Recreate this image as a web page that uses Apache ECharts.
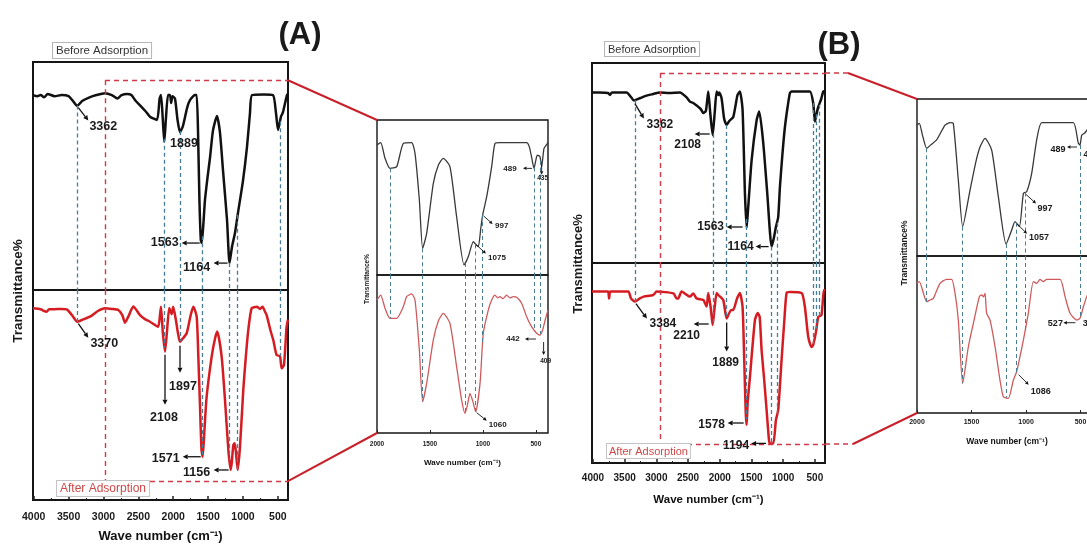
<!DOCTYPE html>
<html>
<head>
<meta charset="utf-8">
<title>FTIR before / after adsorption</title>
<script src="https://cdn.jsdelivr.net/npm/echarts@6.0.0/dist/echarts.min.js"></script>
<style>
  html, body { margin: 0; padding: 0; background: #fff; }
  #chart { width: 1087px; height: 546px; }
</style>
</head>
<body>
<div id="chart"></div>
<script>
// spectra: [wave number cm-1, transmittance %]
var aMainBefore = [[4010,85.5],[3950,85],[3900,85.5],[3850,84.5],[3800,86],[3700,85],[3600,85.5],[3500,85],[3440,83],[3379,80.8],[3300,83],[3200,84.5],[3100,85.5],[2980,86.3],[2880,85.5],[2800,84],[2740,85.5],[2660,86],[2600,85.5],[2540,83],[2476,81],[2400,78.5],[2333,76],[2233,74.6],[2195,84],[2175,85.5],[2150,75],[2128,65],[2105,75],[2075,85.5],[2046,85.5],[2030,82],[2010,85],[1975,84],[1940,75],[1903,69.2],[1860,72],[1800,80],[1760,83.3],[1688,85.5],[1664,85.5],[1645,70],[1625,40],[1605,22],[1592,20.6],[1570,28],[1545,39.5],[1510,49],[1473,58],[1430,70],[1373,76.3],[1330,69],[1287,52.6],[1229,30.7],[1193,11.8],[1158,18.9],[1115,25],[1072,33.8],[1000,48],[943,62.7],[900,77.6],[871,85.5],[700,85.7],[570,85.5],[527,77.6],[498,70.2],[456,76],[427,78],[370,85.5],[355,86]];
var aMainAfter = [[4010,91.3],[3900,90.8],[3850,90],[3814,89.7],[3780,90.8],[3719,90.8],[3600,91],[3527,90.8],[3450,88],[3375,84.9],[3290,86],[3193,87.3],[3080,90],[2978,91.3],[2880,91],[2787,90.5],[2730,88],[2691,84.4],[2644,87.3],[2572,92.1],[2476,88],[2400,86],[2333,84.9],[2218,82.5],[2190,88],[2175,92],[2150,80],[2118,70.6],[2090,80],[2057,91.4],[2023,88.5],[2000,92],[1962,85.7],[1930,79],[1903,75.4],[1860,77],[1807,79.4],[1750,88],[1712,92],[1664,87.3],[1640,68],[1616,44.4],[1595,24],[1578,20.6],[1555,32],[1521,49.2],[1449,68.3],[1400,77],[1369,80.2],[1306,68.3],[1258,47.6],[1210,23.8],[1177,14.3],[1160,18],[1139,26.2],[1120,27],[1105,24],[1076,14.3],[1043,25.4],[996,52.4],[960,68],[924,81],[876,91.3],[800,92],[757,91],[720,92],[685,89.7],[661,88],[600,80],[566,76.2],[518,69],[470,68.5],[446,62.7],[413,64.3],[390,75],[375,82.5],[355,86]];
var aInsetBefore = [[2000,83.9],[1965,85.4],[1924,75.3],[1877,68.8],[1814,69.9],[1751,84.9],[1673,85.4],[1641,78.5],[1600,48.4],[1569,17.2],[1531,26.9],[1468,59.1],[1420,71],[1374,75.3],[1311,69.9],[1248,37.6],[1178,6.5],[1138,11.8],[1090,21.5],[1065,19.5],[1043,18.3],[1020,30],[1002,38.7],[964,50.5],[917,69.9],[886,84.9],[839,85.4],[650,85.4],[587,85.4],[562,82.8],[540,76],[517,68.8],[500,74],[486,77.4],[461,76.3],[445,69.9],[423,81.7],[400,84],[385,85.4]];
var aInsetAfter = [[2000,84.2],[1965,87.3],[1924,78.9],[1877,72.6],[1814,72.6],[1751,80],[1720,86.3],[1673,88],[1641,84.2],[1600,52.5],[1569,19.8],[1531,31.4],[1468,58.9],[1420,71],[1374,75.7],[1311,69.4],[1248,42],[1201,20.9],[1169,12.4],[1145,18],[1122,25.1],[1095,20],[1068,13.5],[1027,31.4],[996,63.1],[949,77.8],[917,84.2],[886,87.3],[860,85.5],[839,86.3],[810,85],[776,87.3],[745,85.5],[713,86.3],[681,85.9],[634,82.1],[587,73.6],[540,67.3],[492,63.1],[461,62],[436,65.2],[410,72],[385,77.8]];

var bMainBefore = [[4015,85.3],[3900,85.3],[3760,85],[3732,84],[3700,85.3],[3469,85.3],[3400,83],[3354,81.2],[3250,82.5],[3154,83.7],[3050,84.5],[2944,85.3],[2800,85],[2628,85.3],[2523,82.8],[2470,80.7],[2418,80],[2300,77],[2260,75],[2219,76],[2181,85.7],[2150,75],[2112,64],[2080,75],[2049,85.7],[2020,84],[2008,85.3],[1972,82.5],[1930,72],[1891,69],[1850,71],[1787,73],[1720,84],[1682,85.7],[1640,76.5],[1603,35],[1576,17.5],[1555,26],[1497,51.5],[1418,71.5],[1377,75.7],[1314,60],[1251,35],[1182,8.2],[1150,12],[1114,18],[1078,23],[1051,38],[1010,55],[972,68],[930,78],[893,85],[867,85.7],[700,85.7],[578,85.7],[526,80],[499,70.7],[470,75],[447,78],[400,82],[368,85.7],[340,86]];
var bMainAfter = [[4015,85.7],[3800,85.7],[3760,85.7],[3745,82.3],[3725,85.7],[3443,85.7],[3400,82.3],[3338,80.7],[3260,82.3],[3200,83.2],[3050,84],[2996,85.7],[2730,84.8],[2680,82.3],[2655,82.3],[2602,85.7],[2470,83.2],[2418,84.8],[2366,82.3],[2260,81.5],[2208,78.2],[2181,85],[2140,77],[2112,69],[2080,78],[2049,85],[2024,84],[1945,81.5],[1891,72.3],[1820,76.5],[1787,76.5],[1730,82],[1682,85],[1640,78],[1614,51.5],[1590,25],[1576,19],[1560,30],[1524,43],[1445,71.5],[1400,75],[1392,75],[1370,73],[1340,56.5],[1303,43],[1261,26.5],[1224,11.5],[1209,9.8],[1156,9.8],[1114,21.5],[1078,26.5],[1025,51.5],[980,72],[946,85],[893,85.5],[709,85],[657,78],[604,63],[552,58],[526,59],[480,66],[447,73],[395,74],[358,86.5],[343,86]];
var bInsetBefore = [[2003,83.4],[1979,84.5],[1950,77],[1911,68.6],[1870,71],[1820,73.9],[1743,83.4],[1697,84.9],[1667,84.5],[1621,48.4],[1581,18.7],[1514,41.8],[1460,60],[1422,69.4],[1376,74.9],[1315,67.5],[1254,37.8],[1183,7.6],[1131,16.6],[1101,21.9],[1061,18.7],[1024,39.9],[994,41],[948,52.7],[902,74],[856,84.9],[700,84.9],[566,84.9],[520,71.8],[505,70.7],[489,76.9],[459,78.5],[420,82],[349,84]];
var bInsetAfter = [[2003,82.6],[1979,83.7],[1911,70.9],[1881,72],[1850,73],[1789,82.6],[1728,85.1],[1682,85.1],[1651,76.2],[1621,59.2],[1581,18.9],[1529,42.2],[1483,57.1],[1428,74.1],[1407,75.2],[1390,74],[1376,76.2],[1361,63.5],[1330,59.2],[1284,42.2],[1239,21],[1208,10.4],[1162,9.3],[1116,21],[1086,26.3],[1024,46.5],[979,63.5],[933,83.7],[902,82.6],[872,85.1],[841,83.7],[810,85.1],[688,85.1],[642,74.1],[596,63.5],[535,59.2],[505,60.3],[474,67.7],[443,74.1],[400,80],[349,83]];

// band positions joined by the dashed guide lines
var aMainGuides  = [3375, 2125, 1895, 1583, 1193, 1076, 470];
var aInsetGuides = [1877, 1569, 1168, 1068, 1002, 515, 455];
var bMainGuides  = [3338, 2110, 1890, 1583, 1182, 1099, 526, 474, 434];
var bInsetGuides = [1911, 1581, 1183, 1092, 1009, 505];

// zoomed window drawn on the main plots: [wave number, top value, bottom value]
var aWindow = [2978, 92, 9];
var bWindow = [2943, 95, 9.5];

// peak labels: [text, wave number, arrow from dx,dy, arrow to dx,dy, label dx,dy, font size]
var aBeforeNotes = [['3362',3375,1,2,11,15,26,21],['1889',1903,null,null,null,null,4,11],['1563',1592,-2,0,-20,0,-37,0],['1164',1193,-2,0,-16,0,-33,4]];
var aAfterNotes  = [['3370',3375,1,2,11,16,27,22],['2108',2118,0,3,0,53,-1,66],['1897',1903,0,4,0,31,3,45],['1571',1578,-2,0,-20,0,-37,2],['1156',1177,-2,0,-17,0,-34,3]];
var aInBeforeNotes = [['489',517,-2,0,-11,0,-24,0],['435',445,0,-2,0,8,1,12,6.5],['997',1002,1,1,10,9,19,11],['1075',1075,1,1,11,10,22,14]];
var aInAfterNotes  = [['442',461,-4,4,-15,4,-27,4],['409',436,1,12,1,25,3,31,6.5],['1060',1068,1,1,11,9,22,13]];
var bBeforeNotes = [['3362',3354,1,3,10,18,26,24],['2108',2112,-3,-1,-18,-1,-25,10],['1563',1576,-4,-1,-20,-1,-36,-1],['1164',1182,-3,0,-16,0,-31,0]];
var bAfterNotes  = [['3384',3338,1,2,12,17,28,22],['2210',2112,-4,-1,-19,-1,-26,11],['1889',1891,0,4,0,33,-1,44],['1578',1576,-3,-2,-19,-2,-35,0],['1194',1190,-5,0,-20,0,-35,2]];
var bInBeforeNotes = [['489',505,-3,2,-13,2,-22,5],['435',505,null,null,null,null,11,10],['997',1009,1,2,11,11,20,16],['1057',1092,1,1,11,11,23,15]];
var bInAfterNotes  = [['527',529,-2,3,-14,3,-22,4],['398',529,null,null,null,null,13,4],['1086',1086,2,3,12,13,24,20]];

var FONT = '"Liberation Sans", Arial, sans-serif';
var AXIS_NAME = 'Wave number (cm\u207B\u00B9)';

function valueAt(spec, w) {
    for (var i = 0; i < spec.length - 1; i++) {
        var a = spec[i], b = spec[i + 1];
        if (w <= a[0] && w >= b[0]) {
            return a[1] + (w - a[0]) / (b[0] - a[0]) * (b[1] - a[1]);
        }
    }
    return spec[spec.length - 1][1];
}

// one entry per framed box
var plots = [
    {box:[33,62,255,228],  range:[355,4010], spec:aMainBefore,  guides:aMainGuides,  part:'top',    main:true,  ink:'#111',    win:aWindow, notes:aBeforeNotes,   noteSize:12.5},
    {box:[33,290,255,210], range:[355,4010], spec:aMainAfter,   guides:aMainGuides,  part:'bottom', main:true,  ink:'#d41c22', win:aWindow, notes:aAfterNotes,    noteSize:12.5, tick:10.5, tickGap:12, nameSize:13, nameGap:30},
    {box:[377,120,171,155],range:[385,2000], spec:aInsetBefore, guides:aInsetGuides, part:'top',    main:false, ink:'#383838', notes:aInBeforeNotes, noteSize:8},
    {box:[377,275,171,158],range:[385,2000], spec:aInsetAfter,  guides:aInsetGuides, part:'bottom', main:false, ink:'#cf5a5c', notes:aInAfterNotes,  noteSize:8, tick:6.5, tickGap:8, nameSize:8, nameGap:26},
    {box:[592,63,233,200], range:[340,4015], spec:bMainBefore,  guides:bMainGuides,  part:'top',    main:true,  ink:'#111',    win:bWindow, notes:bBeforeNotes,   noteSize:12},
    {box:[592,263,233,200],range:[340,4015], spec:bMainAfter,   guides:bMainGuides,  part:'bottom', main:true,  ink:'#d41c22', win:bWindow, notes:bAfterNotes,    noteSize:12, tick:10, tickGap:10, nameSize:11.5, nameGap:31},
    {box:[917,99,180,157], range:[349,2000], spec:bInsetBefore, guides:bInsetGuides, part:'top',    main:false, ink:'#383838', notes:bInBeforeNotes, noteSize:9},
    {box:[917,256,180,157],range:[349,2000], spec:bInsetAfter,  guides:bInsetGuides, part:'bottom', main:false, ink:'#cf5a5c', notes:bInAfterNotes,  noteSize:9, tick:7, tickGap:6, nameSize:8.5, nameGap:24}
];

var grid = [], xAxis = [], yAxis = [], series = [];
plots.forEach(function (p, i) {
    var bottom = p.part === 'bottom';
    grid.push({
        left: p.box[0], top: p.box[1], width: p.box[2], height: p.box[3],
        show: true, borderColor: '#151515', borderWidth: p.main ? 2 : 1.4,
        backgroundColor: 'transparent', outerBoundsMode: 'none', containLabel: false
    });
    xAxis.push({
        type: 'value', gridIndex: i, min: p.range[0], max: p.range[1], inverse: true,
        splitNumber: p.main ? 8 : 4, show: bottom,
        axisLine: {show: false}, splitLine: {show: false},
        axisTick: {show: true, inside: true, length: p.main ? 4 : 3, lineStyle: {color: '#222', width: p.main ? 1.5 : 1}},
        minorTick: {show: p.main, splitNumber: 2, length: 2, lineStyle: {color: '#222'}},
        axisLabel: {
            fontFamily: FONT, fontWeight: 'bold', fontSize: p.tick || 10, color: '#1a1a1a', margin: p.tickGap || 8,
            showMinLabel: false, formatter: function (v) { return String(v); }
        },
        name: bottom ? AXIS_NAME : '', nameLocation: 'middle', nameGap: p.nameGap || 20,
        nameTextStyle: {fontFamily: FONT, fontWeight: 'bold', fontSize: p.nameSize || 10, color: '#111'}
    });
    yAxis.push({type: 'value', gridIndex: i, min: 0, max: 100, show: false});

    series.push({
        type: 'line', xAxisIndex: i, yAxisIndex: i, data: p.spec,
        showSymbol: false, smooth: 0.2, silent: true,
        lineStyle: {color: p.ink, width: p.main ? 2.5 : 1.3},
        markLine: {
            silent: true, symbol: ['none', 'none'], animation: false,
            label: {show: false}, emphasis: {disabled: true},
            lineStyle: {color: '#4a7d93', type: [4, 3], width: p.main ? 1.3 : 1},
            data: p.guides.map(function (w) {
                var v = valueAt(p.spec, w);
                return bottom ? [{coord: [w, 100]}, {coord: [w, v]}] : [{coord: [w, v]}, {coord: [w, 0]}];
            })
        }
    });

    if (p.win) {
        var w = p.win, edge = p.range[0];
        series.push({
            type: 'line', xAxisIndex: i, yAxisIndex: i, data: [], silent: true,
            markLine: {
                silent: true, symbol: ['none', 'none'], animation: false,
                label: {show: false}, emphasis: {disabled: true},
                lineStyle: {color: '#d03a48', type: [5, 4], width: 1.4},
                data: bottom
                    ? [[{coord: [w[0], 100]}, {coord: [w[0], w[2]]}], [{coord: [w[0], w[2]]}, {coord: [edge, w[2]]}]]
                    : [[{coord: [w[0], w[1]]}, {coord: [edge, w[1]]}], [{coord: [w[0], w[1]]}, {coord: [w[0], 0]}]]
            }
        });
    }
});

var chart = echarts.init(document.getElementById('chart'));
chart.setOption({
    animation: false,
    backgroundColor: '#fff',
    grid: grid, xAxis: xAxis, yAxis: yAxis, series: series
});

// ---- overlay: panel letters, legend boxes, arrows, zoom connectors ----
function txt(x, y, s, size, opts) {
    opts = opts || {};
    return {
        type: 'text', z: 100, silent: true, x: x, y: y, rotation: opts.rot || 0,
        style: {
            text: s, fontFamily: FONT, fontSize: size, fontWeight: opts.weight || 'bold',
            fill: opts.fill || '#1a1a1a', align: opts.align || 'center', verticalAlign: opts.va || 'middle',
            backgroundColor: opts.bg, borderColor: opts.border, borderWidth: opts.border ? 1 : 0,
            padding: opts.pad
        }
    };
}

function arrow(x1, y1, x2, y2, head, lw) {
    var dx = x2 - x1, dy = y2 - y1, len = Math.sqrt(dx * dx + dy * dy) || 1;
    var ux = dx / len, uy = dy / len, bx = x2 - ux * head, by = y2 - uy * head, hw = head * 0.5;
    return [
        {type: 'line', z: 100, silent: true, shape: {x1: x1, y1: y1, x2: bx, y2: by}, style: {stroke: '#111', lineWidth: lw}},
        {type: 'polygon', z: 100, silent: true,
         shape: {points: [[x2, y2], [bx - uy * hw, by + ux * hw], [bx + uy * hw, by - ux * hw]]},
         style: {fill: '#111'}}
    ];
}

var g = [
    txt(300, 35, '(A)', 31),
    txt(839, 45, '(B)', 31),
    txt(53, 43, 'Before Adsorption', 11.5, {weight: 'normal', fill: '#333', align: 'left', va: 'top', bg: '#fff', border: '#b5b5b5', pad: [2, 3, 1, 3]}),
    txt(57, 481, 'After Adsorption', 12, {weight: 'normal', fill: '#d04848', align: 'left', va: 'top', bg: '#fff', border: '#c4c4c4', pad: [2, 3, 1, 3]}),
    txt(605, 42, 'Before Adsorption', 11, {weight: 'normal', fill: '#333', align: 'left', va: 'top', bg: '#fff', border: '#b5b5b5', pad: [2, 3, 1, 3]}),
    txt(607, 444, 'After Adsorption', 11, {weight: 'normal', fill: '#d04848', align: 'left', va: 'top', bg: '#fff', border: '#c4c4c4', pad: [2, 2, 1, 2]}),
    txt(18, 291, 'Transmittance%', 13.5, {rot: Math.PI / 2}),
    txt(578, 264, 'Transmittance%', 13, {rot: Math.PI / 2}),
    txt(367, 279, 'Transmittance%', 6.5, {rot: Math.PI / 2}),
    txt(905, 253, 'Transmittance%', 8.5, {rot: Math.PI / 2})
];

plots.forEach(function (p, i) {
    var lw = p.main ? 1.3 : 0.9, head = p.main ? 5 : 3.5;
    p.notes.forEach(function (n) {
        var at = chart.convertToPixel({gridIndex: i}, [n[1], valueAt(p.spec, n[1])]);
        if (n[2] !== null) {
            g = g.concat(arrow(at[0] + n[2], at[1] + n[3], at[0] + n[4], at[1] + n[5], head, lw));
        }
        g.push(txt(at[0] + n[6], at[1] + n[7], n[0], n[8] || p.noteSize));
    });
});

// red connectors from the zoom window to the inset frames
var links = [
    {from: 0, val: aWindow[1], to: 2, toVal: 100, ext: 0},
    {from: 1, val: aWindow[2], to: 3, toVal: 0,   ext: 0},
    {from: 4, val: bWindow[1], to: 6, toVal: 100, ext: 23},
    {from: 5, val: bWindow[2], to: 7, toVal: 0,   ext: 28}
];
links.forEach(function (l) {
    var s = chart.convertToPixel({gridIndex: l.from}, [plots[l.from].range[0], l.val]);
    var e = chart.convertToPixel({gridIndex: l.to}, [plots[l.to].range[1], l.toVal]);
    var kx = s[0] + l.ext;
    if (l.ext) {
        g.push({type: 'line', z: 90, silent: true, shape: {x1: s[0], y1: s[1], x2: kx, y2: s[1]},
                style: {stroke: '#d03a48', lineWidth: 1.4, lineDash: [5, 4]}});
    }
    g.push({type: 'line', z: 90, silent: true, shape: {x1: kx, y1: s[1], x2: e[0], y2: e[1]},
            style: {stroke: '#c8202a', lineWidth: 2}});
});

chart.setOption({graphic: g});
</script>
</body>
</html>
